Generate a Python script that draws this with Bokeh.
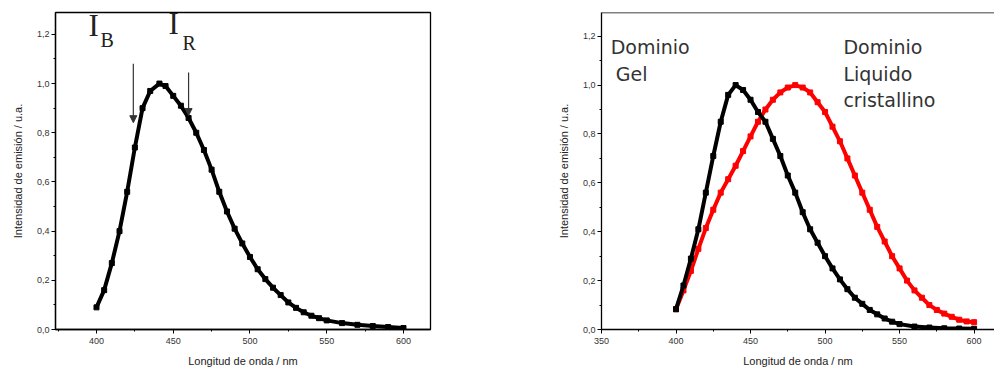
from bokeh.plotting import figure
from bokeh.layouts import row
from bokeh.models import (Span, Arrow, NormalHead, CustomJSTickFormatter, FixedTicker, Label)
from bokeh.embed import file_html
from bokeh.resources import INLINE

# ---- data ----
wl_a = [400, 405, 410, 415, 420, 425, 430, 435, 441, 445, 450, 455, 460, 465, 470, 475,
        480, 485, 490, 495, 500, 505, 510, 515, 520, 525, 530, 535, 540, 545, 550,
        560, 570, 580, 590, 600]
int_a = [0.09, 0.16, 0.27, 0.40, 0.56, 0.74, 0.90, 0.97, 1.0, 0.99, 0.95, 0.91, 0.86, 0.80,
         0.73, 0.65, 0.56, 0.48, 0.41, 0.35, 0.295, 0.245, 0.205, 0.17, 0.14, 0.11, 0.088,
         0.07, 0.056, 0.046, 0.037, 0.026, 0.019, 0.014, 0.010, 0.006]

wl_gel = [400, 405, 410, 415, 420, 425, 430, 435, 440, 445, 450, 455, 460, 465, 470, 475,
          480, 485, 490, 495, 500, 505, 510, 515, 520, 525, 530, 535, 540, 545, 550,
          560, 570, 580, 590, 600]
int_gel = [0.083, 0.18, 0.29, 0.41, 0.56, 0.71, 0.85, 0.96, 1.0, 0.98, 0.94, 0.89, 0.85,
           0.78, 0.71, 0.63, 0.56, 0.48, 0.41, 0.355, 0.30, 0.25, 0.205, 0.165, 0.13,
           0.105, 0.08, 0.062, 0.045, 0.032, 0.022, 0.012, 0.008, 0.005, 0.004, 0.003]

wl_lc = [400, 405, 410, 415, 420, 425, 430, 435, 440, 445, 450, 455, 460, 465, 470, 475,
         480, 485, 490, 495, 500, 505, 510, 515, 520, 525, 530, 535, 540, 545, 550, 555,
         560, 565, 570, 575, 580, 585, 590, 595, 600]
int_lc = [0.083, 0.16, 0.24, 0.33, 0.415, 0.49, 0.56, 0.615, 0.67, 0.73, 0.79, 0.85, 0.90,
          0.94, 0.97, 0.99, 1.0, 0.99, 0.97, 0.93, 0.89, 0.83, 0.77, 0.70, 0.63, 0.56, 0.49,
          0.42, 0.36, 0.30, 0.25, 0.20, 0.16, 0.13, 0.10, 0.08, 0.065, 0.052, 0.04, 0.033, 0.03]

y_ticks = [0.0, 0.2, 0.4, 0.6, 0.8, 1.0, 1.2]
x_ticks_a = [400, 450, 500, 550, 600]
x_ticks_b = [350, 400, 450, 500, 550, 600]

FONT = "Liberation Sans"
fmt = CustomJSTickFormatter(code="return tick.toFixed(1).replace('.', ',');")


def style(p, xt):
    p.xaxis.ticker = FixedTicker(ticks=xt, minor_ticks=[t + 25 for t in xt] + [xt[0] - 25])
    p.yaxis.ticker = FixedTicker(ticks=y_ticks, minor_ticks=[round(t + 0.1, 1) for t in y_ticks])
    p.yaxis.formatter = fmt
    for ax in (p.xaxis[0], p.yaxis[0]):
        ax.axis_line_color = "black"
        ax.axis_line_width = 1.3
        ax.major_tick_line_color = "black"
        ax.minor_tick_line_color = "black"
        ax.major_tick_out = 4
        ax.major_tick_in = 0
        ax.minor_tick_out = 2
        ax.minor_tick_in = 0
        ax.major_label_text_font = FONT
        ax.major_label_text_font_size = "9px"
        ax.major_label_text_color = "#333333"
        ax.axis_label_text_font = FONT
        ax.axis_label_text_font_size = "11px"
        ax.axis_label_text_font_style = "normal"
        ax.axis_label_text_color = "#222222"
    p.xaxis.major_label_standoff = 4
    p.yaxis.major_label_standoff = 2
    p.xaxis.axis_label_standoff = 8
    p.yaxis.axis_label_standoff = 10
    p.xgrid.visible = False
    p.ygrid.visible = False
    p.background_fill_color = "white"
    p.border_fill_color = "white"


def curve(p, xs, ys, color):
    p.line(xs, ys, line_color=color, line_width=4)
    p.scatter(xs, ys, marker="square", size=5, line_color=color, fill_color=color)


# ---- left panel ----
pa = figure(width=548, height=376, x_range=(373.3, 617.6), y_range=(0, 1.289),
            output_backend="svg", toolbar_location=None,
            min_border_left=55, min_border_right=118, min_border_top=12, min_border_bottom=47)
style(pa, x_ticks_a)
pa.outline_line_color = "black"
pa.outline_line_width = 1.3
pa.xaxis.axis_label = "Longitud de onda / nm"
pa.yaxis.axis_label = "Intensidad de emisión / u.a."
curve(pa, wl_a, int_a, "black")

pa.add_layout(Label(x=394.8, y=1.167, text="I", text_font="Liberation Serif",
                    text_font_size="31px", text_color="#222222"))
pa.add_layout(Label(x=402.6, y=1.134, text="B", text_font="Liberation Serif",
                    text_font_size="20px", text_color="#222222"))
pa.add_layout(Label(x=446.9, y=1.175, text="I", text_font="Liberation Serif",
                    text_font_size="31px", text_color="#222222"))
pa.add_layout(Label(x=456.0, y=1.122, text="R", text_font="Liberation Serif",
                    text_font_size="20px", text_color="#222222"))
for xa, y0, y1 in [(424, 1.081, 0.841), (460, 1.045, 0.87)]:
    pa.add_layout(Arrow(x_start=xa, y_start=y0, x_end=xa, y_end=y1, line_color="#333333",
                        line_width=1.2,
                        end=NormalHead(size=7, fill_color="#333333", line_color="#333333")))

# ---- right panel ----
pb = figure(width=446, height=376, x_range=(350, 613.7), y_range=(0, 1.297),
            output_backend="svg", toolbar_location=None,
            min_border_left=53, min_border_right=0, min_border_top=9, min_border_bottom=44)
style(pb, x_ticks_b)
pb.outline_line_color = None
pb.add_layout(Span(location=1.297, dimension="width", line_color="black", line_width=1.5))
pb.xaxis.axis_label = "Longitud de onda / nm"
pb.yaxis.axis_label = "Intensidad de emisión / u.a."
curve(pb, wl_lc, int_lc, "red")
curve(pb, wl_gel, int_gel, "black")

for tx, ty, s in [(356.2, 1.20, "Dominio"), (359.6, 1.092, "Gel"),
                  (512.3, 1.20, "Dominio"), (512.3, 1.092, "Liquido"),
                  (512.3, 0.984, "cristallino")]:
    pb.add_layout(Label(x=tx, y=ty, text=s, text_font="DejaVu Sans", text_font_size="19px",
                        text_baseline="top", text_color="#333333"))

layout = row(pa, pb)
open("out.html", "w").write(file_html(layout, INLINE))
